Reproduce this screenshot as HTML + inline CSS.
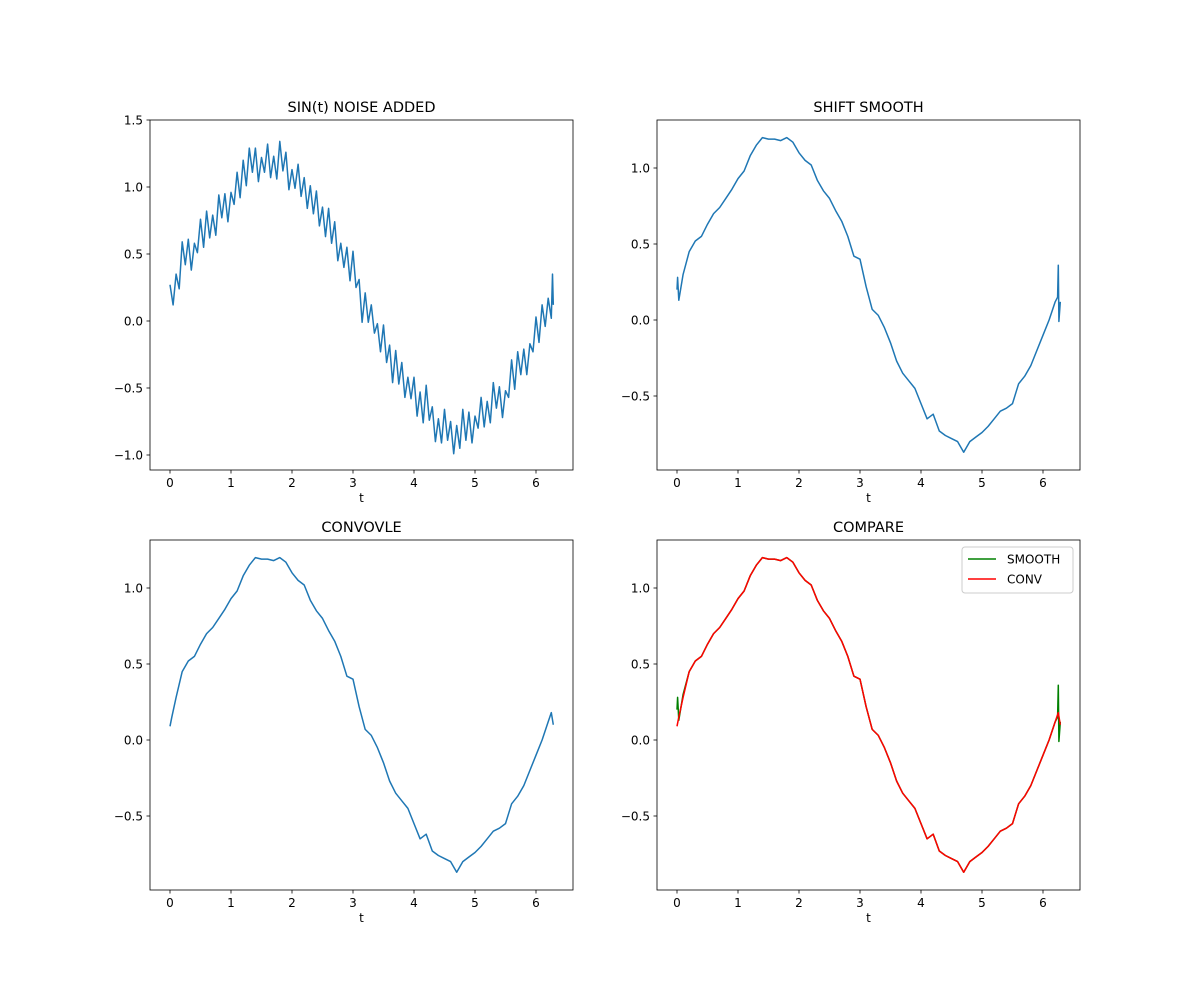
<!DOCTYPE html>
<html><head><meta charset="utf-8"><style>
body{margin:0;background:#fff;font-family:"Liberation Sans","DejaVu Sans",sans-serif;}
svg text{font-family:"DejaVu Sans","Liberation Sans",sans-serif;}
</style></head><body>
<svg id="fig" width="1200" height="1000" xmlns="http://www.w3.org/2000/svg">
<rect width="1200" height="1000" fill="#fff"/>
</svg>
<script>
const noisyT=[0,.05,.1,.15,.2,.25,.3,.35,.4,.45,.5,.55,.6,.65,.7,.75,.8,.85,.9,.95,1,1.05,1.1,1.15,1.2,1.25,1.3,1.35,1.4,1.45,1.5,1.55,1.6,1.65,1.7,1.75,1.8,1.85,1.9,1.95,2,2.05,2.1,2.15,2.2,2.25,2.3,2.35,2.4,2.45,2.5,2.55,2.6,2.65,2.7,2.75,2.8,2.85,2.9,2.95,3,3.05,3.1,3.15,3.2,3.25,3.3,3.35,3.4,3.45,3.5,3.55,3.6,3.65,3.7,3.75,3.8,3.85,3.9,3.95,4,4.05,4.1,4.15,4.2,4.25,4.3,4.35,4.4,4.45,4.5,4.55,4.6,4.65,4.7,4.75,4.8,4.85,4.9,4.95,5,5.05,5.1,5.15,5.2,5.25,5.3,5.35,5.4,5.45,5.5,5.55,5.6,5.65,5.7,5.75,5.8,5.85,5.9,5.95,6,6.05,6.1,6.15,6.2,6.25,6.27,6.283];
const noisyY=[.27,.12,.35,.24,.59,.42,.61,.38,.58,.51,.76,.55,.82,.62,.79,.64,.94,.77,.95,.74,.96,.87,1.11,.92,1.2,1.01,1.29,1.11,1.29,1.04,1.22,1.11,1.32,1.07,1.23,1.06,1.34,1.12,1.26,.98,1.13,.99,1.17,.93,1.07,.84,1.01,.8,.97,.71,.85,.63,.84,.58,.74,.45,.58,.4,.55,.3,.52,.25,.31,-.01,.21,-.01,.12,-.09,-.02,-.23,-.03,-.31,-.18,-.46,-.22,-.47,-.31,-.57,-.42,-.58,-.42,-.71,-.53,-.76,-.48,-.74,-.64,-.9,-.73,-.91,-.66,-.89,-.75,-.99,-.78,-.95,-.66,-.89,-.68,-.91,-.71,-.8,-.57,-.79,-.6,-.76,-.46,-.65,-.49,-.72,-.52,-.57,-.29,-.51,-.23,-.4,-.21,-.4,-.17,-.23,.03,-.16,.12,-.04,.17,.02,.35,.12];
const smoothT=[0,.01,.03,.1,.2,.3,.4,.5,.6,.7,.8,.9,1,1.1,1.2,1.3,1.4,1.5,1.6,1.7,1.8,1.9,2,2.1,2.2,2.3,2.4,2.5,2.6,2.7,2.8,2.9,3,3.1,3.2,3.3,3.4,3.5,3.6,3.7,3.8,3.9,4,4.1,4.2,4.3,4.4,4.5,4.6,4.7,4.8,4.9,5,5.1,5.2,5.3,5.4,5.5,5.6,5.7,5.8,5.9,6,6.1,6.2,6.24,6.25,6.26,6.283];
const smoothY=[.2,.28,.13,.3,.45,.52,.55,.63,.7,.74,.8,.86,.93,.98,1.08,1.15,1.2,1.19,1.19,1.18,1.2,1.17,1.1,1.05,1.02,.92,.85,.8,.72,.65,.55,.42,.4,.22,.07,.03,-.05,-.15,-.27,-.35,-.4,-.45,-.55,-.65,-.62,-.73,-.76,-.78,-.8,-.87,-.8,-.77,-.74,-.7,-.65,-.6,-.58,-.55,-.42,-.37,-.3,-.2,-.1,0,.12,.15,.36,-.01,.12];
const convT=[0,.03,.1,.2,.3,.4,.5,.6,.7,.8,.9,1,1.1,1.2,1.3,1.4,1.5,1.6,1.7,1.8,1.9,2,2.1,2.2,2.3,2.4,2.5,2.6,2.7,2.8,2.9,3,3.1,3.2,3.3,3.4,3.5,3.6,3.7,3.8,3.9,4,4.1,4.2,4.3,4.4,4.5,4.6,4.7,4.8,4.9,5,5.1,5.2,5.3,5.4,5.5,5.6,5.7,5.8,5.9,6,6.1,6.2,6.25,6.283];
const convY=[.09,.15,.28,.45,.52,.55,.63,.7,.74,.8,.86,.93,.98,1.08,1.15,1.2,1.19,1.19,1.18,1.2,1.17,1.1,1.05,1.02,.92,.85,.8,.72,.65,.55,.42,.4,.22,.07,.03,-.05,-.15,-.27,-.35,-.4,-.45,-.55,-.65,-.62,-.73,-.76,-.78,-.8,-.87,-.8,-.77,-.74,-.7,-.65,-.6,-.58,-.55,-.42,-.37,-.3,-.2,-.1,0,.12,.18,.1];
const xTicks=[0,1,2,3,4,5,6];
const yTicksA=[1.5,1.0,0.5,0.0,-0.5,-1.0];
const yTicksB=[1.0,0.5,0.0,-0.5];

const svg=document.getElementById('fig');
const NS='http://www.w3.org/2000/svg';
function mk(tag,attrs,parent){const e=document.createElementNS(NS,tag);for(const k in attrs)e.setAttribute(k,attrs[k]);(parent||svg).appendChild(e);return e;}
function fmt(v){return (v<0?'\u2212':'')+Math.abs(v).toFixed(1);}

function axes(name,L,T,W,H,xmin,xmax,ymin,ymax,yt,title){
  const g=mk('g',{});
  
  
  const sx=v=>L+(v-xmin)/(xmax-xmin)*W;
  const sy=v=>T+H-(v-ymin)/(ymax-ymin)*H;
  xTicks.forEach(v=>{const x=sx(v);
    mk('line',{x1:x,x2:x,y1:T+H,y2:T+H+3.5,stroke:'#000','stroke-width':0.8},g);
    const t=mk('text',{x:x,y:T+H+17,'font-size':12,'text-anchor':'middle'},g);t.textContent=v;
    
    });
  yt.forEach(v=>{const y=sy(v);
    mk('line',{x1:L-3.5,x2:L,y1:y,y2:y,stroke:'#000','stroke-width':0.8},g);
    const t=mk('text',{x:L-7,y:y+4.5,'font-size':12,'text-anchor':'end'},g);t.textContent=fmt(v);
    
    });
  const xl=mk('text',{x:L+W/2,y:T+H+32,'font-size':12,'text-anchor':'middle'},g);xl.textContent='t';
  
  
  const ti=mk('text',{x:L+W/2,y:T-8,'font-size':14.5,'text-anchor':'middle'},g);ti.textContent=title;
  
  
  return {g,sx,sy,L,T,W,H};
}
function line(ax,xs,ys,color,name){
  const pts=xs.map((x,i)=>ax.sx(x).toFixed(1)+','+ax.sy(ys[i]).toFixed(1)).join(' ');
  const p=mk('polyline',{points:pts,fill:'none',stroke:color,'stroke-width':1.5,'stroke-linejoin':'round'},ax.g);
  
  
}
function frame(ax){mk('rect',{x:ax.L,y:ax.T,width:ax.W,height:ax.H,fill:'none',stroke:'#000','stroke-width':0.8},ax.g);}

// x: 0 -> 170, 61px per unit ; axes 150..573
const xmin=-20/61, xmax=xmin+423/61;
const a1=axes('noise-plot',150,120,423,350,xmin,xmax,-1.5+ (321-470)/-134*0 -1.112+1.5, 1.5,yTicksA,'SIN(t) NOISE ADDED');
line(a1,noisyT,noisyY,'#1f77b4','noisy-series');frame(a1);

const yminB=-(470-320)/152, ymaxB=(320-120)/152;
const a2=axes('shift-smooth-plot',657,120,423,350,xmin,xmax,yminB,ymaxB,yTicksB,'SHIFT SMOOTH');
line(a2,smoothT,smoothY,'#1f77b4','smooth-series');frame(a2);

const a3=axes('convolve-plot',150,540,423,350,xmin,xmax,yminB,ymaxB,yTicksB,'CONVOVLE');
line(a3,convT,convY,'#1f77b4','conv-series');frame(a3);

const a4=axes('compare-plot',657,540,423,350,xmin,xmax,yminB,ymaxB,yTicksB,'COMPARE');
line(a4,smoothT,smoothY,'green','compare-smooth-series');
line(a4,convT,convY,'red','compare-conv-series');frame(a4);

const lg=mk('g',{});


mk('rect',{x:962,y:547,width:111,height:46,rx:3,fill:'#fff',stroke:'#ccc','stroke-width':1},lg);
[['SMOOTH','green',559],['CONV','red',579]].forEach(([lab,c,y])=>{
  const e=mk('g',{},lg);
  
  
  mk('line',{x1:968,x2:996,y1:y,y2:y,stroke:c,'stroke-width':1.5},e);
  const t=mk('text',{x:1007,y:y+4.5,'font-size':12},e);t.textContent=lab;
});
</script>
</body></html>
